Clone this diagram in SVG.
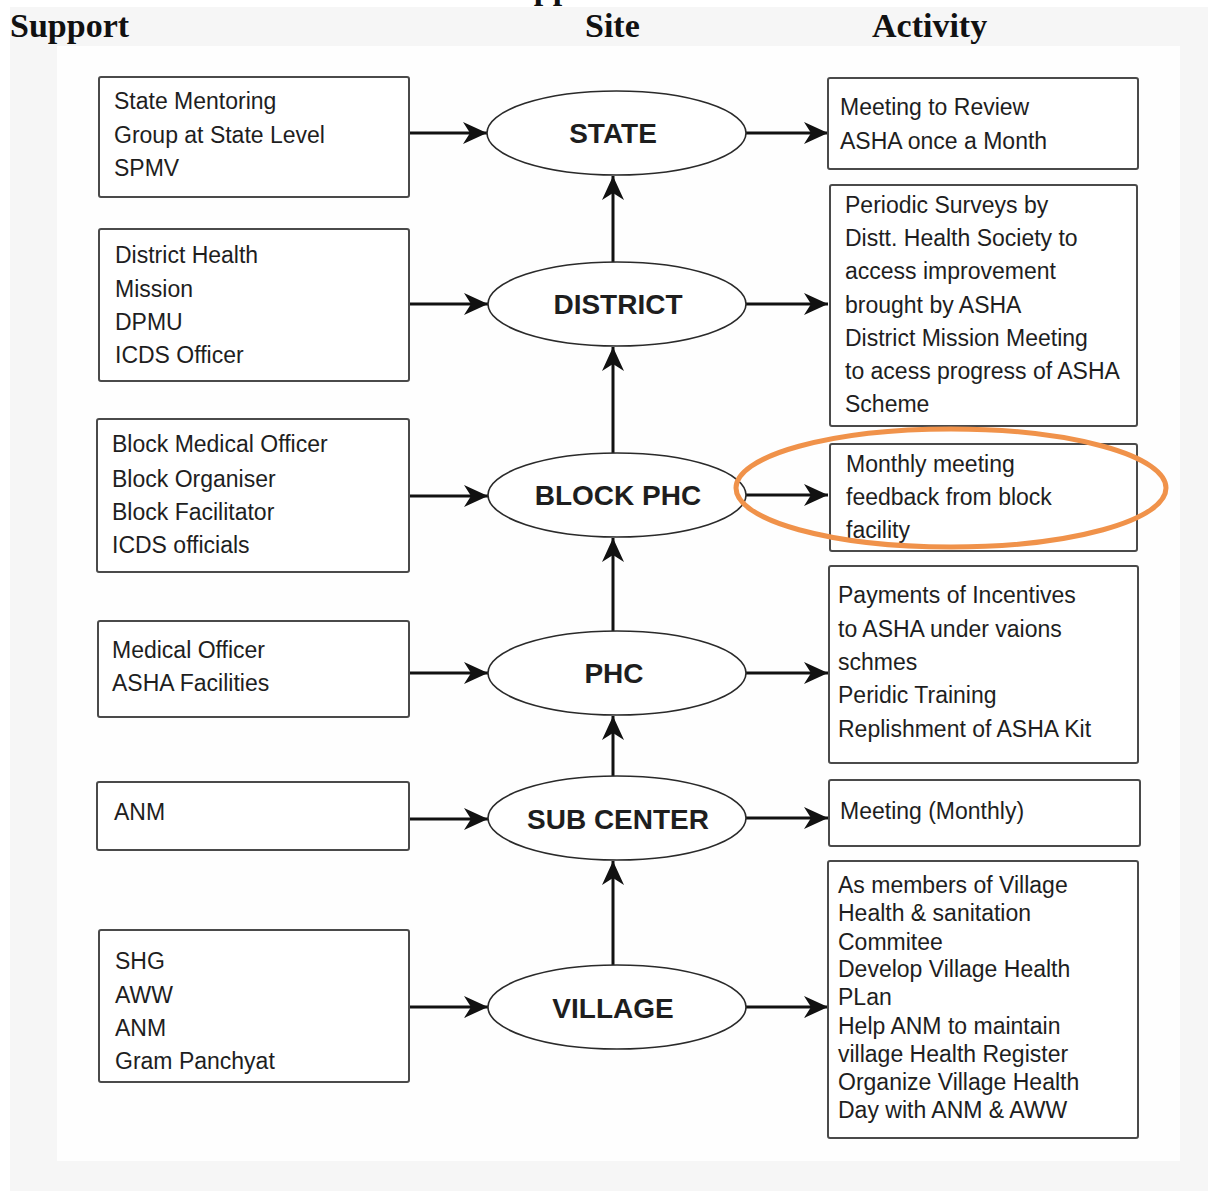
<svg xmlns="http://www.w3.org/2000/svg" width="1208" height="1191" viewBox="0 0 1208 1191">
<style>
.hd{font-family:"Liberation Serif",serif;font-weight:bold;font-size:34px;fill:#111}
.box{fill:#fff;stroke:#4a4a4a;stroke-width:2}
.t{font-family:"Liberation Sans",Arial,sans-serif;font-size:23px;fill:#1e1e1e}
.el{fill:#fff;stroke:#2a2a2a;stroke-width:1.6}
.et{font-family:"Liberation Sans",Arial,sans-serif;font-size:28px;font-weight:bold;fill:#1e1e1e;text-anchor:middle}
.ar{stroke:#111;stroke-width:3;fill:none;marker-end:url(#ah)}
</style>
<defs>
<marker id="ah" markerUnits="userSpaceOnUse" markerWidth="24" markerHeight="22" refX="24" refY="11" orient="auto">
<path d="M0,0 L24,11 L0,22 L7,11 Z" fill="#111"/>
</marker>
</defs>
<rect width="1208" height="1191" fill="#fff"/>
<text class="hd" x="496" y="-1">Support</text>
<rect x="10" y="7" width="1198" height="1184" fill="#f6f6f6"/>
<rect x="57" y="46" width="1123" height="1115" fill="#fefefe"/>
<g id="headings">
<text class="hd" x="10" y="37">Support</text>
<text class="hd" x="585" y="37">Site</text>
<text class="hd" x="872" y="37">Activity</text>
</g>
<g id="connectors">
<line class="ar" x1="409" y1="133" x2="487" y2="133"/>
<line class="ar" x1="746" y1="133" x2="828" y2="133"/>
<line class="ar" x1="409" y1="304" x2="488" y2="304"/>
<line class="ar" x1="746" y1="304" x2="828" y2="304"/>
<line class="ar" x1="409" y1="496" x2="488" y2="496"/>
<line class="ar" x1="746" y1="495" x2="828" y2="495"/>
<line class="ar" x1="409" y1="673" x2="488" y2="673"/>
<line class="ar" x1="746" y1="673" x2="828" y2="673"/>
<line class="ar" x1="409" y1="819" x2="488" y2="819"/>
<line class="ar" x1="746" y1="818" x2="828" y2="818"/>
<line class="ar" x1="409" y1="1007" x2="488" y2="1007"/>
<line class="ar" x1="746" y1="1007" x2="828" y2="1007"/>
<line class="ar" x1="613" y1="262" x2="613" y2="176"/>
<line class="ar" x1="613" y1="453" x2="613" y2="347"/>
<line class="ar" x1="613" y1="631" x2="613" y2="538"/>
<line class="ar" x1="613" y1="776" x2="613" y2="716"/>
<line class="ar" x1="613" y1="965" x2="613" y2="861"/>
</g>
<g id="support-state"><rect class="box" x="99" y="77" width="310" height="120" rx="2"/>
<text class="t" x="114" y="109">State Mentoring</text><text class="t" x="114" y="143">Group at State Level</text><text class="t" x="114" y="176">SPMV</text></g>
<g id="support-district"><rect class="box" x="99" y="229" width="310" height="152" rx="2"/>
<text class="t" x="115" y="263">District Health</text><text class="t" x="115" y="297">Mission</text><text class="t" x="115" y="330">DPMU</text><text class="t" x="115" y="363">ICDS Officer</text></g>
<g id="support-block"><rect class="box" x="97" y="419" width="312" height="153" rx="2"/>
<text class="t" x="112" y="452">Block Medical Officer</text><text class="t" x="112" y="487">Block Organiser</text><text class="t" x="112" y="520">Block Facilitator</text><text class="t" x="112" y="553">ICDS officials</text></g>
<g id="support-phc"><rect class="box" x="98" y="621" width="311" height="96" rx="2"/>
<text class="t" x="112" y="658">Medical Officer</text><text class="t" x="112" y="691">ASHA Facilities</text></g>
<g id="support-sub"><rect class="box" x="97" y="782" width="312" height="68" rx="2"/>
<text class="t" x="114" y="820">ANM</text></g>
<g id="support-village"><rect class="box" x="99" y="930" width="310" height="152" rx="2"/>
<text class="t" x="115" y="969">SHG</text><text class="t" x="115" y="1003">AWW</text><text class="t" x="115" y="1036">ANM</text><text class="t" x="115" y="1069">Gram Panchyat</text></g>
<g id="site-state"><ellipse class="el" cx="616.5" cy="133" rx="129.5" ry="42"/><text class="et" x="613" y="143">STATE</text></g>
<g id="site-district"><ellipse class="el" cx="617" cy="304" rx="129" ry="42"/><text class="et" x="618" y="314">DISTRICT</text></g>
<g id="site-block"><ellipse class="el" cx="617" cy="495" rx="129" ry="42"/><text class="et" x="618" y="505">BLOCK PHC</text></g>
<g id="site-phc"><ellipse class="el" cx="617" cy="673" rx="129" ry="42"/><text class="et" x="614" y="683">PHC</text></g>
<g id="site-sub"><ellipse class="el" cx="617" cy="818" rx="129" ry="42"/><text class="et" x="618" y="829">SUB CENTER</text></g>
<g id="site-village"><ellipse class="el" cx="617" cy="1007" rx="129" ry="42"/><text class="et" x="613" y="1018">VILLAGE</text></g>
<g id="activity-state"><rect class="box" x="828" y="78" width="310" height="91" rx="2"/>
<text class="t" x="840" y="115">Meeting to Review</text><text class="t" x="840" y="149">ASHA once a Month</text></g>
<g id="activity-district"><rect class="box" x="830" y="185" width="307" height="241" rx="2"/>
<text class="t" x="845" y="213">Periodic Surveys by</text><text class="t" x="845" y="246">Distt. Health Society to</text><text class="t" x="845" y="279">access improvement</text><text class="t" x="845" y="313">brought by ASHA</text><text class="t" x="845" y="346">District Mission Meeting</text><text class="t" x="845" y="379">to acess progress of ASHA</text><text class="t" x="845" y="412">Scheme</text></g>
<g id="activity-block"><rect class="box" x="830" y="444" width="307" height="107" rx="2"/>
<text class="t" x="846" y="472">Monthly meeting</text><text class="t" x="846" y="505">feedback from block</text><text class="t" x="846" y="538">facility</text></g>
<g id="activity-phc"><rect class="box" x="829" y="566" width="309" height="197" rx="2"/>
<text class="t" x="838" y="603">Payments of Incentives</text><text class="t" x="838" y="637">to ASHA under vaions</text><text class="t" x="838" y="670">schmes</text><text class="t" x="838" y="703">Peridic Training</text><text class="t" x="838" y="737">Replishment of ASHA Kit</text></g>
<g id="activity-sub"><rect class="box" x="829" y="780" width="311" height="66" rx="2"/>
<text class="t" x="840" y="819">Meeting (Monthly)</text></g>
<g id="activity-village"><rect class="box" x="828" y="861" width="310" height="277" rx="2"/>
<text class="t" x="838" y="893">As members of Village</text><text class="t" x="838" y="921">Health &amp; sanitation</text><text class="t" x="838" y="950">Commitee</text><text class="t" x="838" y="977">Develop Village Health</text><text class="t" x="838" y="1005">PLan</text><text class="t" x="838" y="1034">Help ANM to maintain</text><text class="t" x="838" y="1062">village Health Register</text><text class="t" x="838" y="1090">Organize Village Health</text><text class="t" x="838" y="1118">Day with ANM &amp; AWW</text></g>
<g id="highlight"><ellipse cx="951" cy="488" rx="215" ry="59" fill="none" stroke="#f0924a" stroke-width="5"/></g>
</svg>
